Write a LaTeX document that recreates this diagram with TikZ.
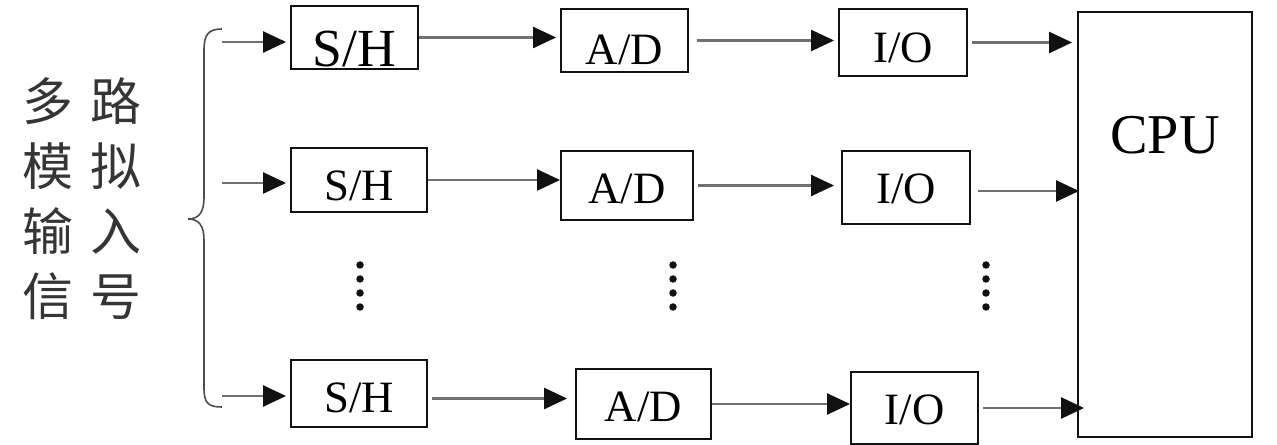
\documentclass[tikz,border=0pt]{standalone}
\usepackage{fontspec}
\setmainfont{Liberation Serif}
\newfontfamily\cjk{Noto Sans CJK SC}
\usepackage{tikz}
\usetikzlibrary{arrows.meta, positioning}
\definecolor{Ink}{HTML}{111111}
\definecolor{Wire}{HTML}{707070}

\begin{document}
\begin{tikzpicture}[
  x=0.02cm, y=-0.02cm,
  block/.style={draw=Ink, line width=1.1pt, inner sep=0pt, text depth=0pt, text height=0.8cm,
    minimum width=2.56cm, minimum height=1.3cm, font=\fontsize{25.5}{30}\selectfont},
  arrow/.style={-{Triangle[length=0.46cm, width=0.42cm, color=Ink]}, line width=1.4pt, draw=Wire,
    shorten <=0.08cm, shorten >=0.08cm}
]
\useasboundingbox (0,0) rectangle (1277,445);

% input signals
\node[font=\cjk\fontsize{29}{37}\selectfont, align=center, inner sep=0pt, text=Ink!85] (sig) at (82,199)
  {多\hspace{0.35em}路\\模\hspace{0.35em}拟\\输\hspace{0.35em}入\\信\hspace{0.35em}号};
\draw[line width=0.9pt, draw=Ink!75] (222,29) .. controls (208,29) and (204,35) .. (204,50) -- (204,198)
  .. controls (204,212) and (199,219) .. (188,219) .. controls (199,219) and (204,226) .. (204,240)
  -- (204,388) .. controls (204,403) and (208,407) .. (222,407);
\coordinate (in1) at (222,42);
\coordinate (in2) at (222,183);
\coordinate (in3) at (222,396);

% sample and hold
\node[block, minimum width=2.54cm, minimum height=1.26cm, text height=1.18cm, font=\fontsize{30.5}{34}\selectfont] (sh1) at (354.5,37.5) {S/H};
\node[block, minimum width=2.72cm, minimum height=1.28cm, text height=0.82cm] (sh2) at (359,180) {S/H};
\node[block, minimum width=2.72cm, minimum height=1.34cm, text height=0.76cm] (sh3) at (359,393.5) {S/H};

% converters
\node[block, minimum width=2.54cm, minimum height=1.26cm, text height=0.96cm] (ad1) at (624.5,40.5) {A/D};
\node[block, minimum width=2.64cm, minimum height=1.38cm, text height=0.74cm] (ad2) at (627,185.5) {A/D};
\node[block, minimum width=2.70cm, minimum height=1.40cm, text height=0.72cm] (ad3) at (643.5,404) {A/D};

% interfaces
\node[block, minimum width=2.56cm, minimum height=1.34cm, text height=0.82cm] (io1) at (903,42.5) {I/O};
\node[block, minimum width=2.56cm, minimum height=1.46cm, text height=0.64cm] (io2) at (906,187.5) {I/O};
\node[block, minimum width=2.54cm, minimum height=1.44cm, text height=0.68cm] (io3) at (914.5,408) {I/O};

\node[block, minimum width=3.48cm, minimum height=8.5cm] (cpu) at (1165,224.5) {};
\node[font=\fontsize{32}{36}\selectfont, inner sep=0pt] (cputext) at (1165,135) {CPU};

\draw[arrow, shorten <=0pt] (in1) -- (in1 -| sh1.west);
\draw[arrow, shorten <=0pt] (in2) -- (in2 -| sh2.west);
\draw[arrow, shorten <=0pt] (in3) -- (in3 -| sh3.west);

\draw[arrow, shorten <=0pt] (sh1.east) -- (sh1.east -| ad1.west);
\draw[arrow, shorten <=0pt, shorten >=0pt] (sh2.east) -- (sh2.east -| ad2.west);
\draw[arrow, shorten >=0.16cm] ([yshift=-0.1cm]sh3.east) -- ([yshift=-0.1cm]sh3.east -| ad3.west);

\draw[arrow, shorten <=0.16cm] (ad1.east) -- (ad1.east -| io1.west);
\draw[arrow, shorten >=0.14cm] (ad2.east) -- (ad2.east -| io2.west);
\draw[arrow, shorten <=0pt, shorten >=0pt] (ad3.east) -- (ad3.east -| io3.west);

\draw[arrow, shorten >=0.1cm] (io1.east) -- (io1.east -| cpu.west);
\draw[arrow, shorten <=0.14cm, shorten >=-0.04cm] ([yshift=-0.07cm]io2.east) -- ([yshift=-0.07cm]io2.east -| cpu.west);
\draw[arrow, shorten <=0.08cm, shorten >=-0.14cm] (io3.east) -- (io3.east -| cpu.west);

% more channels
\foreach \x in {360,673,986}
  \foreach \y in {265,279,293,307}
    \fill[Ink] (\x,\y) circle (0.075cm);
\end{tikzpicture}
\end{document}
